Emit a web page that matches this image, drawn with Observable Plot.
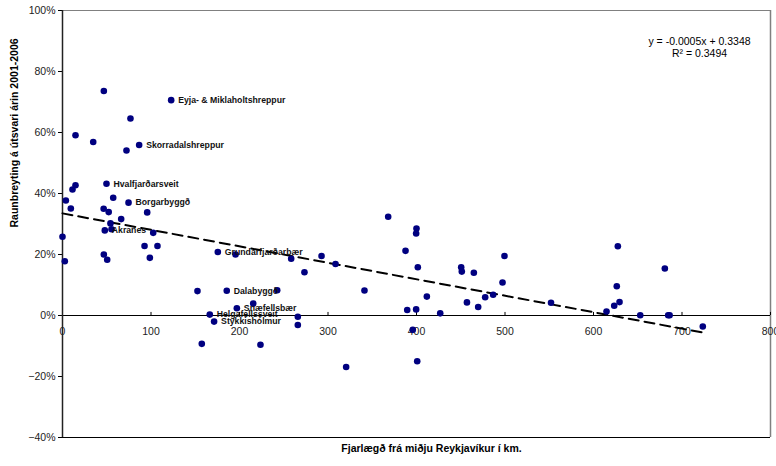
<!DOCTYPE html>
<html>
<head>
<meta charset="utf-8">
<script src="https://cdn.jsdelivr.net/npm/d3@7"></script>
<script src="https://cdn.jsdelivr.net/npm/@observablehq/plot@0.6"></script>
<style>
  html, body { margin: 0; padding: 0; background: #fff; }
</style>
</head>
<body>
<div id="chart"></div>
<script>
// Distance from central Reykjavík (km)
const distKm = [46.7,122.8,76.8,14.7,34.7,86.6,72.3,49.7,14.7,11.3,3.8,57.3,74.6,9.4,46.5,52.2,95.7,66.3,54.2,55.4,47.8,102.5,0,92.7,107.3,46.7,98.7,50.5,2.6,175.5,195.5,152.5,185.6,197,215.5,166.4,171.3,157.4,223.7,258.4,292.7,308.5,273.4,368,242.6,341.2,265.9,265.9,320.5,400,399.6,387.6,401.5,411.7,389.5,399.6,426.8,395.8,400.8,450.5,451.2,464.8,499.4,497.2,477.6,486.6,457,469.7,552,627.5,680.6,626.3,629.4,623.4,614.7,652.8,684.4,686,723.5];
// Real change in municipal income tax 2001-2006 (fraction)
const change = [0.736,0.706,0.646,0.591,0.569,0.559,0.541,0.432,0.427,0.413,0.377,0.386,0.370,0.351,0.350,0.339,0.338,0.316,0.302,0.283,0.279,0.271,0.258,0.228,0.228,0.200,0.189,0.183,0.178,0.208,0.200,0.080,0.081,0.024,0.039,0.003,-0.020,-0.093,-0.096,0.186,0.195,0.169,0.142,0.324,0.083,0.082,-0.004,-0.031,-0.169,0.285,0.269,0.212,0.158,0.062,0.018,0.020,0.007,-0.047,-0.150,0.158,0.144,0.140,0.195,0.108,0.060,0.068,0.043,0.028,0.042,0.227,0.154,0.096,0.044,0.032,0.013,0.001,0.001,0.001,-0.036];
// Point labels (index -> name)
const labelIndex = [1,5,7,12,20,29,32,33,35,36];
const labelNames = ["Eyja- & Miklaholtshreppur","Skorradalshreppur","Hvalfjarðarsveit","Borgarbyggð","Akranes","Grundarfjarðarbær","Dalabyggð","Snæfellsbær","Helgafellssveit","Stykkishólmur"];
// Trend line
const trendSlope = -0.00054;
const trendIntercept = 0.3348;
const equationLines = ["y = -0.0005x + 0.3348", "R\u00B2 = 0.3494"];
// Axes
const xTicks = [0,100,200,300,400,500,600,700,800];
const yTicks = [-0.4,-0.2,0,0.2,0.4,0.6,0.8,1.0];
const xTitle = "Fjarlægð frá miðju Reykjavíkur í km.";
const yTitle = "Raunbreyting á útsvari árin 2001-2006";

const points = distKm.map((x, i) => ({x, y: change[i]}));
const labeled = labelIndex.map((i, k) => ({x: distKm[i], y: change[i], name: labelNames[k]}));
const xMax = d3.max(distKm);
const trend = [0, xMax].map(x => ({x, y: trendIntercept + trendSlope * x}));

const font = "'Liberation Sans', Arial, sans-serif";

const chart = Plot.plot({
  width: 776,
  height: 466,
  marginLeft: 62,
  marginRight: 6,
  marginTop: 10,
  marginBottom: 29,
  x: {domain: [0, 800], axis: null},
  y: {domain: [-0.4, 1.0]},
  style: {fontFamily: font, background: "#fff", color: "#000"},
  marks: [
    Plot.ruleY([1.0], {stroke: "#808080", strokeWidth: 1.2}),
    Plot.ruleX([800], {stroke: "#808080", strokeWidth: 1.5}),
    Plot.ruleY([-0.4], {stroke: "#000", strokeWidth: 1.2}),
    Plot.ruleY([0], {stroke: "#000", strokeWidth: 1}),
    Plot.axisY({ticks: yTicks, tickFormat: d3.format(".0%"), tickSize: 4, tickPadding: 3, fontSize: 10.5, label: null, fill: "#222"}),
    Plot.ruleX(xTicks, {x: d => d, y1: 0, y2: 0.01, stroke: "#000"}),
    Plot.text(xTicks, {x: d => d, y: 0, text: d => String(d), dy: 16, fontSize: 10.5, fill: "#222"}),
    Plot.ruleX([0], {stroke: "#222", strokeWidth: 1.5}),
    Plot.line(trend, {x: "x", y: "y", stroke: "#000", strokeWidth: 2, strokeDasharray: "10,6"}),
    Plot.dot(points, {x: "x", y: "y", r: 3.3, fill: "#000080", stroke: "none"}),
    Plot.text(labeled, {x: "x", y: "y", text: "name", dx: 7, textAnchor: "start", fontWeight: "bold", fontSize: 8.7, fill: "#111"}),
    Plot.text([yTitle], {frameAnchor: "left", rotate: -90, dx: -48, dy: 3.5, fontWeight: "bold", fontSize: 10.5, lineAnchor: "middle", fill: "#000"}),
    Plot.text([xTitle], {frameAnchor: "bottom", dx: 15, dy: 11, fontWeight: "bold", fontSize: 10.5, lineAnchor: "middle", fill: "#000"}),
    Plot.text([equationLines[0]], {frameAnchor: "top-right", dx: -71, dy: 30.7, textAnchor: "middle", lineAnchor: "middle", fontSize: 10.5, fill: "#000"}),
    Plot.text([equationLines[1]], {frameAnchor: "top-right", dx: -71, dy: 43.3, textAnchor: "middle", lineAnchor: "middle", fontSize: 10.5, fill: "#000"})
  ]
});
document.getElementById("chart").appendChild(chart);
</script>
</body>
</html>
